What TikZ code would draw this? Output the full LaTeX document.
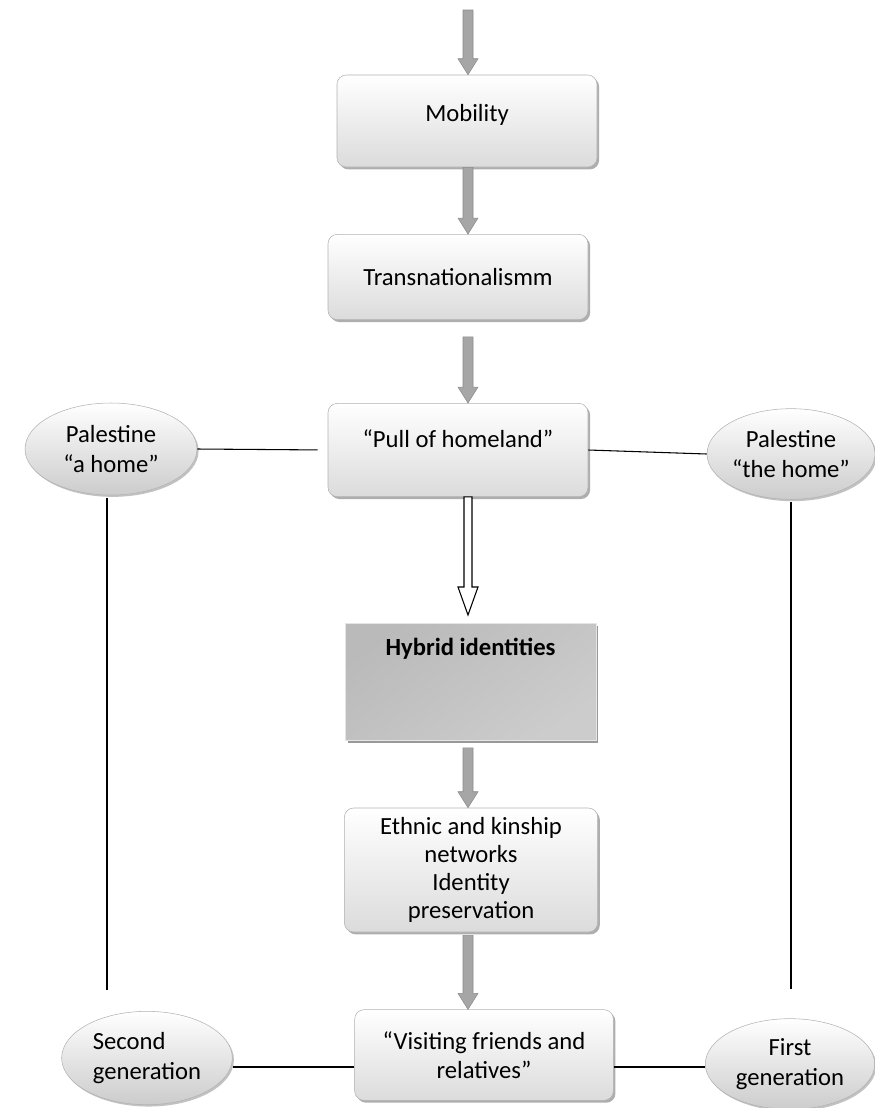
\documentclass[tikz,border=0pt]{standalone}
\usepackage{fontspec}
\setmainfont{Carlito}
\usetikzlibrary{calc, shapes.geometric, shadows}

% a shaded block arrow from one point down to another
\newcommand{\grayarrow}[3][0]{%
  \draw[grayarr] ($(#2)+(-5,#1)$) -- ($(#3)+(-5,-16)$) -- ($(#3)+(-10,-16)$) -- (#3)
    -- ($(#3)+(10,-16)$) -- ($(#3)+(5,-16)$) -- ($(#2)+(5,#1)$) -- cycle;}

\begin{document}
\begin{tikzpicture}[
    x=0.75pt, y=-0.75pt,
    font=\fontsize{18.5}{22}\selectfont,
    card/.style={draw=black!30, rounded corners=7pt, top color=white, bottom color=black!14,
                 align=center, inner sep=0pt,
                 drop shadow={shadow xshift=1.6pt, shadow yshift=-1.8pt, fill=black!45, opacity=0.7}},
    oval/.style={ellipse, draw=black!30, top color=white, bottom color=black!20, align=center, inner sep=0pt,
                 drop shadow={shadow xshift=1.2pt, shadow yshift=-1.4pt, fill=black!40, opacity=0.6}},
    slab/.style={draw=black!10, inner sep=0pt, shading=axis, top color=black!27, middle color=black!7,
                 bottom color=black!20, shading angle=35,
                 drop shadow={shadow xshift=1.8pt, shadow yshift=-2pt, fill=black!50, opacity=0.8}},
    grayarr/.style={draw=black!45, left color=black!35, middle color=black!5, right color=black!35},
    hollowarr/.style={draw=black, fill=white, line width=0.8pt},
    link/.style={draw=black, line width=0.8pt},
]
\useasboundingbox (0,0) rectangle (875,1108);
\coordinate (axis) at (468,0);
\coordinate (top) at (468,10);
\coordinate (lft) at (107,0);
\coordinate (base) at (0,1067);
% ----- the chain of boxes down the middle
\node[card, minimum width=195pt, minimum height=69pt, text depth=12pt] (mob) at (467,121) {Mobility};
\node[card, minimum width=195pt, minimum height=64pt] (trans) at (458,277) {Transnationalismm};
\node[card, minimum width=195pt, minimum height=70pt, text depth=17pt] (pull) at (458,450) {“Pull of homeland”};
\node[slab, minimum width=188pt, text height=24pt, text depth=64pt, anchor=north] (hyb) at (470.5,623) {\textbf{Hybrid identities}};
\node[card, minimum width=190pt, minimum height=93pt, font=\fontsize{18.5}{21}\selectfont] (eth) at (471,870)
     {Ethnic and kinship\\networks\\Identity\\preservation};
\node[card, minimum width=194pt, minimum height=68pt] (visit) at (484,1055) {“Visiting friends and\\relatives”};
% ----- the ovals on both sides
\node[oval, minimum width=129pt, minimum height=69pt] (pa) at (111,449) {Palestine\\“a home”};
\node[oval, minimum width=126pt, minimum height=68pt] (pt) at (791,454) {Palestine\\“the home”};
\node[oval, minimum width=128pt, minimum height=70pt, align=left] (sg) at (147,1058) {Second\\generation};
\node[oval, minimum width=127pt, minimum height=68pt] (fg) at (790,1064) {First\\generation};
% ----- block arrows
\grayarrow{top}{mob.north -| axis}
\grayarrow{mob.south -| axis}{trans.north -| axis}
\grayarrow[17]{trans.south -| axis}{pull.north -| axis}
\draw[hollowarr] ($(pull.south -| axis)+(-4,0)$) -- ($(hyb.north -| axis)+(-4,-36)$) -- ($(hyb.north -| axis)+(-10,-36)$)
   -- ($(hyb.north -| axis)+(0,-8)$) -- ($(hyb.north -| axis)+(10,-36)$) -- ($(hyb.north -| axis)+(4,-36)$)
   -- ($(pull.south -| axis)+(4,0)$) -- cycle;
\grayarrow[7]{hyb.south -| axis}{eth.north -| axis}
\grayarrow[3]{eth.south -| axis}{visit.north -| axis}
% ----- plain lines
\draw[link, shorten >=7.5pt] (pa.east) -- (pull.west);
\draw[link] (pull.east) -- (pt.west);
\draw[link, shorten <=2pt, shorten >=16pt] (pa.south -| lft) -- (sg.north -| lft);
\draw[link, shorten <=2pt, shorten >=22pt] (pt.south) -- (pt.south |- fg.north);
\draw[link] (sg.east |- base) -- (visit.west |- base);
\draw[link] (visit.east |- base) -- (fg.west |- base);
\end{tikzpicture}
\end{document}
